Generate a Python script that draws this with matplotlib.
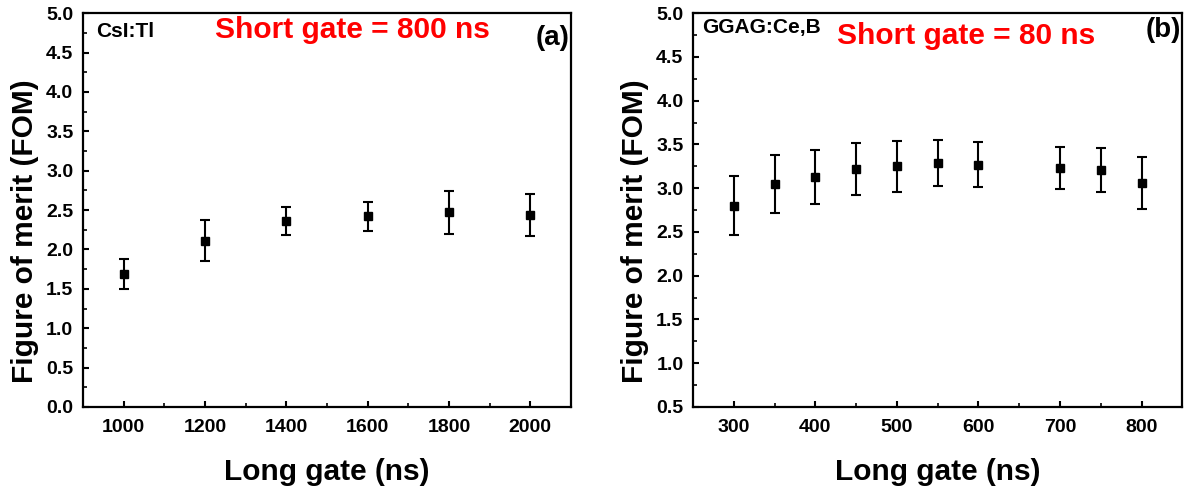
import matplotlib
matplotlib.use("Agg")
import matplotlib.pyplot as plt
from matplotlib.ticker import MultipleLocator, FormatStrFormatter

plt.rcParams['font.family'] = ['Liberation Sans', 'DejaVu Sans']
plt.rcParams['font.weight'] = 'bold'

# Panel (a): CsI:Tl, short gate = 800 ns
long_gate_a = [1000, 1200, 1400, 1600, 1800, 2000]
fom_a = [1.69, 2.11, 2.36, 2.42, 2.47, 2.44]
err_a = [0.19, 0.26, 0.18, 0.18, 0.27, 0.27]

# Panel (b): GGAG:Ce,B, short gate = 80 ns
long_gate_b = [300, 350, 400, 450, 500, 550, 600, 700, 750, 800]
fom_b = [2.80, 3.05, 3.13, 3.22, 3.25, 3.29, 3.27, 3.23, 3.21, 3.06]
err_b = [0.34, 0.33, 0.31, 0.30, 0.29, 0.26, 0.26, 0.24, 0.25, 0.30]

fig = plt.figure(figsize=(11.93, 4.88), dpi=100)
axA = fig.add_axes([0.0696, 0.166, 0.409, 0.807])
axB = fig.add_axes([0.581, 0.166, 0.410, 0.807])

def style(ax, xlim, ylim, xmaj, xmin):
    ax.set_xlim(*xlim)
    ax.set_ylim(*ylim)
    ax.xaxis.set_major_locator(MultipleLocator(xmaj))
    ax.xaxis.set_minor_locator(MultipleLocator(xmin))
    ax.yaxis.set_major_locator(MultipleLocator(0.5))
    ax.yaxis.set_minor_locator(MultipleLocator(0.25))
    ax.yaxis.set_major_formatter(FormatStrFormatter('%.1f'))
    ax.tick_params(which='major', direction='in', length=4.5, width=1.5, labelsize=14, pad=7)
    ax.tick_params(axis='x', which='major', pad=8.5)
    ax.tick_params(which='minor', direction='in', length=3, width=1.2)
    for s in ax.spines.values():
        s.set_linewidth(1.6)
    for lab in ax.get_xticklabels() + ax.get_yticklabels():
        lab.set_fontweight('bold')
    ax.set_xlabel('Long gate (ns)', fontsize=21.5, fontweight='bold', labelpad=16)
    ax.set_ylabel('Figure of merit (FOM)', fontsize=21.5, fontweight='bold')
    ax.yaxis.set_label_coords(-0.090, 0.447)

axA.errorbar(long_gate_a, fom_a, yerr=err_a, fmt='s', color='black', ms=6,
             ecolor='black', elinewidth=1.5, capsize=3.5, capthick=1.5)
style(axA, (900, 2100), (0, 5.0), 200, 100)
axA.text(0.027, 0.954, 'CsI:Tl', transform=axA.transAxes, fontsize=15,
         fontweight='bold', ha='left', va='center')
axA.text(0.553, 0.957, 'Short gate = 800 ns', transform=axA.transAxes, fontsize=21.5,
         fontweight='bold', color='#ff0000', ha='center', va='center')
axA.text(0.997, 0.936, '(a)', transform=axA.transAxes, fontsize=20,
         fontweight='bold', ha='right', va='center')

axB.errorbar(long_gate_b, fom_b, yerr=err_b, fmt='s', color='black', ms=6,
             ecolor='black', elinewidth=1.5, capsize=3.5, capthick=1.5)
style(axB, (250, 850), (0.5, 5.0), 100, 50)
axB.text(0.018, 0.964, 'GGAG:Ce,B', transform=axB.transAxes, fontsize=15,
         fontweight='bold', ha='left', va='center')
axB.text(0.559, 0.942, 'Short gate = 80 ns', transform=axB.transAxes, fontsize=21.5,
         fontweight='bold', color='#ff0000', ha='center', va='center')
axB.text(0.997, 0.957, '(b)', transform=axB.transAxes, fontsize=20,
         fontweight='bold', ha='right', va='center')

fig.savefig('out.png', dpi=100)
